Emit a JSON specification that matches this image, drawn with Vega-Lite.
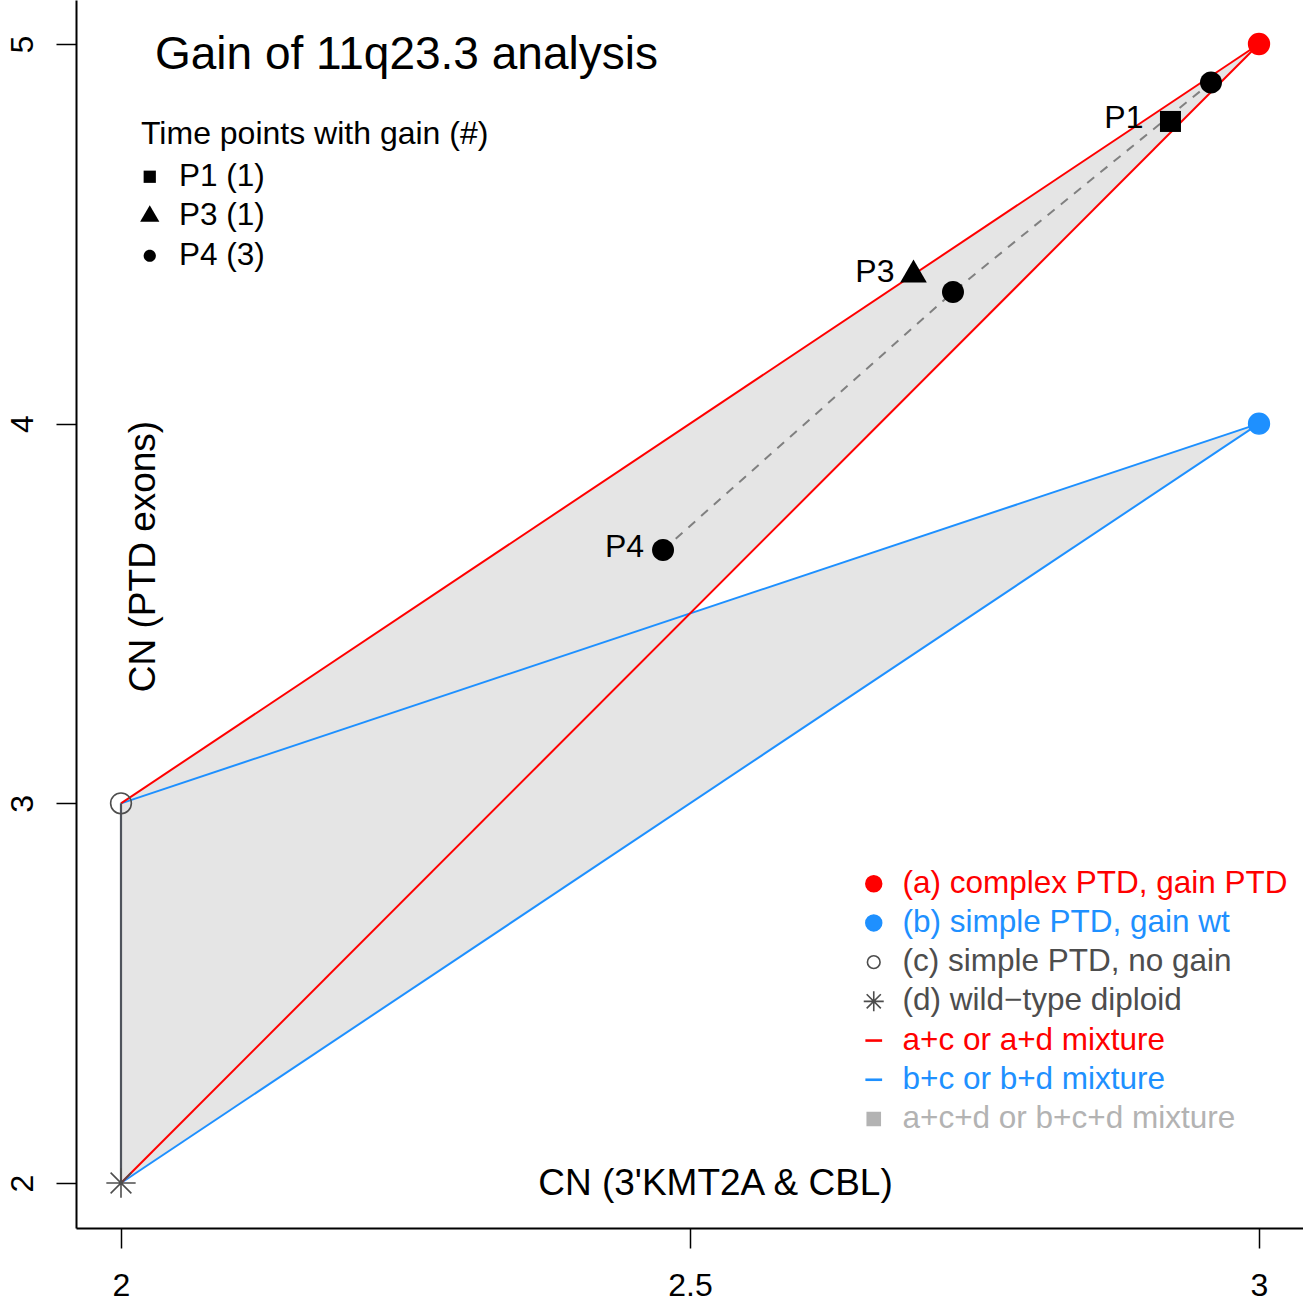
{
  "$schema": "https://vega.github.io/schema/vega-lite/v6.json",
  "width": 1227,
  "height": 1228,
  "autosize": {"type": "none"},
  "padding": {"left": 76, "top": 0, "right": 0, "bottom": 75},
  "background": "white",
  "title": {
    "text": "Gain of 11q23.3 analysis",
    "anchor": "start",
    "frame": "group",
    "orient": "top",
    "offset": 0,
    "dx": 79,
    "dy": 115,
    "baseline": "alphabetic",
    "fontSize": 46,
    "fontWeight": "normal",
    "color": "black",
    "font": "Liberation Sans"
  },
  "config": {
    "view": {"stroke": null},
    "font": "Liberation Sans",
    "legend": {
      "labelFont": "Liberation Sans",
      "labelFontSize": 31.5,
      "labelLimit": 0,
      "titleLimit": 1000,
      "titleFont": "Liberation Sans",
      "titleFontSize": 32,
      "titleFontWeight": "normal",
      "titleColor": "black",
      "padding": 0,
      "offset": 0
    }
  },
  "datasets": {
    "tris": [
      {"tri": "acd", "x": 2, "y": 2, "y2": 3},
      {"tri": "acd", "x": 3, "y": 5, "y2": 5},
      {"tri": "bcd", "x": 2, "y": 2, "y2": 3},
      {"tri": "bcd", "x": 3, "y": 4, "y2": 4}
    ],
    "blueSegs": [
      {"seg": "cb", "x": 2, "y": 3},
      {"seg": "cb", "x": 3, "y": 4},
      {"seg": "db", "x": 2, "y": 2},
      {"seg": "db", "x": 3, "y": 4}
    ],
    "redSegs": [
      {"seg": "ca", "x": 2, "y": 3},
      {"seg": "ca", "x": 3, "y": 5},
      {"seg": "da", "x": 2, "y": 2},
      {"seg": "da", "x": 3, "y": 5}
    ],
    "cdSeg": [
      {"x": 2, "y": 2},
      {"x": 2, "y": 3}
    ],
    "refs": [
      {"type": "a", "x": 3, "y": 5},
      {"type": "b", "x": 3, "y": 4},
      {"type": "c", "x": 2, "y": 3},
      {"type": "d", "x": 2, "y": 2}
    ],
    "tps": [
      {"tp": "P1", "x": 2.9222, "y": 4.796, "lab": "P1"},
      {"tp": "P3", "x": 2.6964, "y": 4.392, "lab": "P3"},
      {"tp": "P4", "x": 2.4763, "y": 3.6673, "lab": "P4"},
      {"tp": "P4", "x": 2.7311, "y": 4.3468, "lab": ""},
      {"tp": "P4", "x": 2.9578, "y": 4.8986, "lab": ""}
    ]
  },
  "encoding": {
    "x": {
      "field": "x",
      "type": "quantitative",
      "scale": {"domain": [1.96046, 3.03866], "nice": false, "zero": false},
      "axis": {
        "values": [2, 2.5, 3],
        "format": "~g",
        "title": "CN (3'KMT2A & CBL)",
        "grid": false,
        "domainColor": "black",
        "domainWidth": 2,
        "tickColor": "black",
        "tickWidth": 1.5,
        "tickSize": 20,
        "labelFont": "Liberation Sans",
        "labelFontSize": 32,
        "labelColor": "black",
        "labelPadding": 22,
        "labelFlush": false,
        "labelOverlap": false,
        "titleFont": "Liberation Sans",
        "titleFontSize": 37,
        "titleFontWeight": "normal",
        "titleColor": "black",
        "titleX": 639,
        "titleY": -45,
        "titleAlign": "center",
        "titleBaseline": "middle"
      }
    },
    "y": {
      "field": "y",
      "type": "quantitative",
      "scale": {"domain": [1.88148, 5.11589], "nice": false, "zero": false},
      "axis": {
        "values": [2, 3, 4, 5],
        "format": "~g",
        "title": "CN (PTD exons)",
        "grid": false,
        "domainColor": "black",
        "domainWidth": 2,
        "tickColor": "black",
        "tickWidth": 1.5,
        "tickSize": 20,
        "labelFont": "Liberation Sans",
        "labelFontSize": 32,
        "labelColor": "black",
        "labelAngle": 270,
        "labelAlign": "center",
        "labelBaseline": "alphabetic",
        "labelPadding": 24,
        "labelFlush": false,
        "labelOverlap": false,
        "titleFont": "Liberation Sans",
        "titleFontSize": 37,
        "titleFontWeight": "normal",
        "titleColor": "black",
        "titleAngle": 270,
        "titleX": 67,
        "titleY": 556,
        "titleAlign": "center",
        "titleBaseline": "middle"
      }
    }
  },
  "layer": [
    {
      "data": {"name": "tris"},
      "mark": {"type": "area", "fill": "#E5E5E5", "opacity": 1, "stroke": null},
      "encoding": {
        "y2": {"field": "y2"},
        "detail": {"field": "tri", "type": "nominal"}
      }
    },
    {
      "data": {"name": "blueSegs"},
      "mark": {"type": "line", "stroke": "#1E90FF", "strokeWidth": 2},
      "encoding": {"detail": {"field": "seg", "type": "nominal"}}
    },
    {
      "data": {"name": "redSegs"},
      "mark": {"type": "line", "stroke": "#FF0000", "strokeWidth": 2},
      "encoding": {"detail": {"field": "seg", "type": "nominal"}}
    },
    {
      "data": {"name": "cdSeg"},
      "mark": {"type": "line", "stroke": "#4F535C", "strokeWidth": 2.2},
      "encoding": {"order": {"field": "y", "type": "quantitative"}}
    },
    {
      "data": {"name": "tps"},
      "transform": [{"filter": "datum.tp == 'P4'"}],
      "mark": {"type": "line", "stroke": "#808080", "strokeWidth": 2, "strokeDash": [9, 8]},
      "encoding": {"order": {"field": "x", "type": "quantitative"}}
    },
    {
      "data": {"name": "refs"},
      "mark": {"type": "point", "size": 430, "strokeWidth": 1.6, "opacity": 1},
      "encoding": {
        "shape": {
          "field": "type",
          "type": "nominal",
          "scale": {
            "domain": ["a", "b", "c", "d", "ac", "bc", "acd"],
            "range": ["circle", "circle", "circle", "M-1.414,0L1.414,0M0,-1.414L0,1.414M-1,-1L1,1M-1,1L1,-1", "stroke", "stroke", "square"]
          },
          "legend": {
            "title": null,
            "orient": "none",
            "legendX": 782,
            "legendY": 868,
            "symbolSize": {"expr": "datum.value == 'a' || datum.value == 'b' ? 250 : datum.value == 'c' ? 160 : datum.value == 'acd' ? 169 : datum.value == 'd' ? 200 : 280"},
            "symbolStrokeWidth": {"expr": "datum.value == 'ac' || datum.value == 'bc' ? 2.6 : 1.6"},
            "labelOffset": 13,
            "rowPadding": 6.2,
            "labelColor": {"expr": "datum.value == 'a' || datum.value == 'ac' ? '#FF0000' : datum.value == 'b' || datum.value == 'bc' ? '#1E90FF' : datum.value == 'acd' ? '#B3B3B3' : '#4D4D4D'"},
            "labelExpr": "datum.value == 'a' ? '(a) complex PTD, gain PTD' : datum.value == 'b' ? '(b) simple PTD, gain wt' : datum.value == 'c' ? '(c) simple PTD, no gain' : datum.value == 'd' ? '(d) wild−type diploid' : datum.value == 'ac' ? 'a+c or a+d mixture' : datum.value == 'bc' ? 'b+c or b+d mixture' : 'a+c+d or b+c+d mixture'"
          }
        },
        "fill": {
          "field": "type",
          "type": "nominal",
          "scale": {
            "domain": ["a", "b", "c", "d", "ac", "bc", "acd"],
            "range": ["#FF0000", "#1E90FF", "transparent", "transparent", "transparent", "transparent", "#B3B3B3"]
          },
          "legend": {
            "title": null,
            "orient": "none",
            "legendX": 782,
            "legendY": 868,
            "symbolSize": {"expr": "datum.value == 'a' || datum.value == 'b' ? 250 : datum.value == 'c' ? 160 : datum.value == 'acd' ? 169 : datum.value == 'd' ? 200 : 280"},
            "symbolStrokeWidth": {"expr": "datum.value == 'ac' || datum.value == 'bc' ? 2.6 : 1.6"},
            "labelOffset": 13,
            "rowPadding": 6.2,
            "labelColor": {"expr": "datum.value == 'a' || datum.value == 'ac' ? '#FF0000' : datum.value == 'b' || datum.value == 'bc' ? '#1E90FF' : datum.value == 'acd' ? '#B3B3B3' : '#4D4D4D'"},
            "labelExpr": "datum.value == 'a' ? '(a) complex PTD, gain PTD' : datum.value == 'b' ? '(b) simple PTD, gain wt' : datum.value == 'c' ? '(c) simple PTD, no gain' : datum.value == 'd' ? '(d) wild−type diploid' : datum.value == 'ac' ? 'a+c or a+d mixture' : datum.value == 'bc' ? 'b+c or b+d mixture' : 'a+c+d or b+c+d mixture'"
          }
        },
        "stroke": {
          "field": "type",
          "type": "nominal",
          "scale": {
            "domain": ["a", "b", "c", "d", "ac", "bc", "acd"],
            "range": ["#FF0000", "#1E90FF", "#4D4D4D", "#4D4D4D", "#FF0000", "#1E90FF", "#B3B3B3"]
          },
          "legend": {
            "title": null,
            "orient": "none",
            "legendX": 782,
            "legendY": 868,
            "symbolSize": {"expr": "datum.value == 'a' || datum.value == 'b' ? 250 : datum.value == 'c' ? 160 : datum.value == 'acd' ? 169 : datum.value == 'd' ? 200 : 280"},
            "symbolStrokeWidth": {"expr": "datum.value == 'ac' || datum.value == 'bc' ? 2.6 : 1.6"},
            "labelOffset": 13,
            "rowPadding": 6.2,
            "labelColor": {"expr": "datum.value == 'a' || datum.value == 'ac' ? '#FF0000' : datum.value == 'b' || datum.value == 'bc' ? '#1E90FF' : datum.value == 'acd' ? '#B3B3B3' : '#4D4D4D'"},
            "labelExpr": "datum.value == 'a' ? '(a) complex PTD, gain PTD' : datum.value == 'b' ? '(b) simple PTD, gain wt' : datum.value == 'c' ? '(c) simple PTD, no gain' : datum.value == 'd' ? '(d) wild−type diploid' : datum.value == 'ac' ? 'a+c or a+d mixture' : datum.value == 'bc' ? 'b+c or b+d mixture' : 'a+c+d or b+c+d mixture'"
          }
        }
      }
    },
    {
      "data": {"name": "tps"},
      "mark": {"type": "point", "filled": true, "fill": "black", "strokeWidth": 0, "size": 324, "opacity": 1},
      "encoding": {
        "shape": {
          "field": "tp",
          "type": "nominal",
          "scale": {
            "domain": ["P1", "P3", "P4"],
            "range": ["M-1.167,-1.167L1.167,-1.167L1.167,1.167L-1.167,1.167Z", "M0,-1.7L1.478,0.85L-1.478,0.85Z", "M1.222,0A1.222,1.222,0,1,1,-1.222,0A1.222,1.222,0,1,1,1.222,0Z"]
          },
          "legend": {
            "title": "Time points with gain (#)",
            "orient": "none",
            "legendX": 65,
            "legendY": 119,
            "titlePadding": 10,
            "titleLimit": 1000,
            "rowPadding": 6.5,
            "symbolSize": {"expr": "datum.value == 'P1' ? 110 : datum.value == 'P3' ? 170 : 100"},
            "symbolOffset": -7,
            "labelOffset": 13.5,
            "labelColor": "black",
            "symbolFillColor": "black",
            "symbolStrokeWidth": 0,
            "labelExpr": "datum.value == 'P1' ? 'P1 (1)' : datum.value == 'P3' ? 'P3 (1)' : 'P4 (3)'"
          }
        }
      }
    },
    {
      "data": {"name": "tps"},
      "transform": [{"filter": "datum.tp == 'P1'"}],
      "mark": {"type": "text", "align": "right", "baseline": "middle", "dx": -27, "dy": -3, "fontSize": 32, "font": "Liberation Sans", "color": "black"},
      "encoding": {"text": {"field": "lab"}}
    },
    {
      "data": {"name": "tps"},
      "transform": [{"filter": "datum.tp != 'P1' && datum.lab != ''"}],
      "mark": {"type": "text", "align": "right", "baseline": "middle", "dx": -19, "dy": -3, "fontSize": 32, "font": "Liberation Sans", "color": "black"},
      "encoding": {"text": {"field": "lab"}}
    }
  ],
  "resolve": {
    "scale": {"shape": "independent", "fill": "independent", "stroke": "independent"},
    "legend": {"shape": "independent", "fill": "independent", "stroke": "independent"}
  }
}
